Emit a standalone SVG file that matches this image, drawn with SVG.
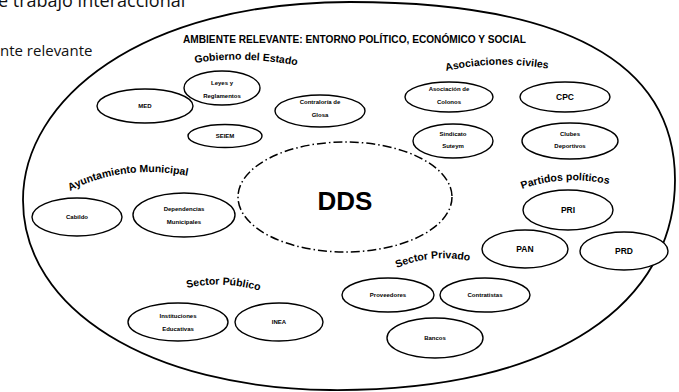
<svg xmlns="http://www.w3.org/2000/svg" width="679" height="392" viewBox="0 0 679 392">
<style>
.n ellipse{fill:#fff;stroke:#000;stroke-width:1.4}
.t{font-family:"Liberation Sans",Arial,sans-serif;font-weight:bold;font-size:6px;text-anchor:middle;fill:#000}
.t2{font-family:"Liberation Sans",Arial,sans-serif;font-weight:bold;font-size:8.5px;text-anchor:middle;fill:#000}
.g{font-family:"Liberation Sans",Arial,sans-serif;font-weight:bold;font-size:10.5px;fill:#000}
</style>
<defs>
<path id="pGob" d="M 195,63 Q 242,55 300,66"/>
<path id="pAso" d="M 446,71 Q 502,58 565,72"/>
<path id="pAyu" d="M 70,191 Q 135,157 220,184"/>
<path id="pPar" d="M 522,189 Q 572,171 630,190"/>
<path id="pPri" d="M 397,268 Q 440,249 492,267"/>
<path id="pPub" d="M 187,288 Q 226,279 270,294"/>
</defs>
<rect width="679" height="392" fill="#fff"/>
<text x="-2" y="7" font-family="'Open Sans','DejaVu Sans',sans-serif" font-size="18" fill="#111">e trabajo interaccional</text>
<text x="0" y="56" font-family="'Open Sans','DejaVu Sans',sans-serif" font-size="15" fill="#111">nte relevante</text>
<g id="ambiente">
<path d="M 350,2 C 560,2 675,60 675,180 C 675,300 560,392 330,390 C 150,388 23,310 23,200 C 23,100 140,2 350,2 Z" fill="none" stroke="#000" stroke-width="1.8"/>
<text x="183" y="43" font-family="'Liberation Sans',Arial,sans-serif" font-weight="bold" font-size="10" textLength="343" lengthAdjust="spacingAndGlyphs">AMBIENTE RELEVANTE: ENTORNO POLÍTICO, ECONÓMICO Y SOCIAL</text>
</g>
<g id="labels">
<text class="g" font-size="9.5"><textPath href="#pGob">Gobierno del Estado</textPath></text>
<text class="g" font-size="12"><textPath href="#pAso">Asociaciones civiles</textPath></text>
<text class="g" font-size="12.5"><textPath href="#pAyu">Ayuntamiento Municipal</textPath></text>
<text class="g" font-size="12.5"><textPath href="#pPar">Partidos políticos</textPath></text>
<text class="g" font-size="13"><textPath href="#pPri">Sector Privado</textPath></text>
<text class="g" font-size="11.3"><textPath href="#pPub">Sector Público</textPath></text>
</g>
<g id="dds">
<ellipse cx="345" cy="197" rx="107" ry="55" fill="none" stroke="#000" stroke-width="1.5" stroke-dasharray="9 3 1.5 3"/>
<text x="345" y="210" font-family="'Liberation Sans',Arial,sans-serif" font-weight="bold" font-size="26" text-anchor="middle">DDS</text>
</g>
<g id="med" class="n"><ellipse cx="145" cy="106" rx="48" ry="17"/><text class="t" x="145" y="108">MED</text></g>
<g id="leyes" class="n"><ellipse cx="222" cy="88" rx="38" ry="17"/><text class="t" x="222" y="85">Leyes y</text><text class="t" x="222" y="98">Reglamentos</text></g>
<g id="contraloria" class="n"><ellipse cx="320" cy="111" rx="45" ry="16"/><text class="t" x="320" y="104">Contraloría de</text><text class="t" x="320" y="117">Glosa</text></g>
<g id="seiem" class="n"><ellipse cx="225" cy="136" rx="37" ry="11.5"/><text class="t" x="225" y="138">SEIEM</text></g>
<g id="asociacion" class="n"><ellipse cx="449" cy="97" rx="44" ry="15"/><text class="t" x="449" y="91">Asociación de</text><text class="t" x="449" y="104">Colonos</text></g>
<g id="cpc" class="n"><ellipse cx="565" cy="97" rx="45" ry="15"/><text class="t2" x="565" y="100" font-size="7">CPC</text></g>
<g id="sindicato" class="n"><ellipse cx="453" cy="141" rx="40" ry="17"/><text class="t" x="453" y="136">Sindicato</text><text class="t" x="453" y="148">Suteym</text></g>
<g id="clubes" class="n"><ellipse cx="570" cy="141" rx="48" ry="18"/><text class="t" x="570" y="136">Clubes</text><text class="t" x="570" y="148">Deportivos</text></g>
<g id="pri" class="n"><ellipse cx="568" cy="210" rx="45" ry="20"/><text class="t2" x="568" y="213">PRI</text></g>
<g id="pan" class="n"><ellipse cx="525" cy="249" rx="43" ry="19"/><text class="t2" x="525" y="252">PAN</text></g>
<g id="prd" class="n"><ellipse cx="624" cy="251" rx="44" ry="19"/><text class="t2" x="624" y="254">PRD</text></g>
<g id="cabildo" class="n"><ellipse cx="77" cy="217" rx="45" ry="19"/><text class="t" x="77" y="219">Cabildo</text></g>
<g id="dependencias" class="n"><ellipse cx="184" cy="215" rx="51" ry="22"/><text class="t" x="184" y="211">Dependencias</text><text class="t" x="184" y="224">Municipales</text></g>
<g id="proveedores" class="n"><ellipse cx="388" cy="295" rx="46" ry="17"/><text class="t" x="388" y="297">Proveedores</text></g>
<g id="contratistas" class="n"><ellipse cx="485" cy="295" rx="45" ry="17"/><text class="t" x="485" y="297">Contratistas</text></g>
<g id="bancos" class="n"><ellipse cx="435" cy="338" rx="48" ry="20"/><text class="t" x="435" y="340">Bancos</text></g>
<g id="instituciones" class="n"><ellipse cx="178" cy="322" rx="50" ry="19"/><text class="t" x="178" y="318">Instituciones</text><text class="t" x="178" y="331">Educativas</text></g>
<g id="inea" class="n"><ellipse cx="279" cy="322" rx="44" ry="19"/><text class="t" x="279" y="324">INEA</text></g>
</svg>
